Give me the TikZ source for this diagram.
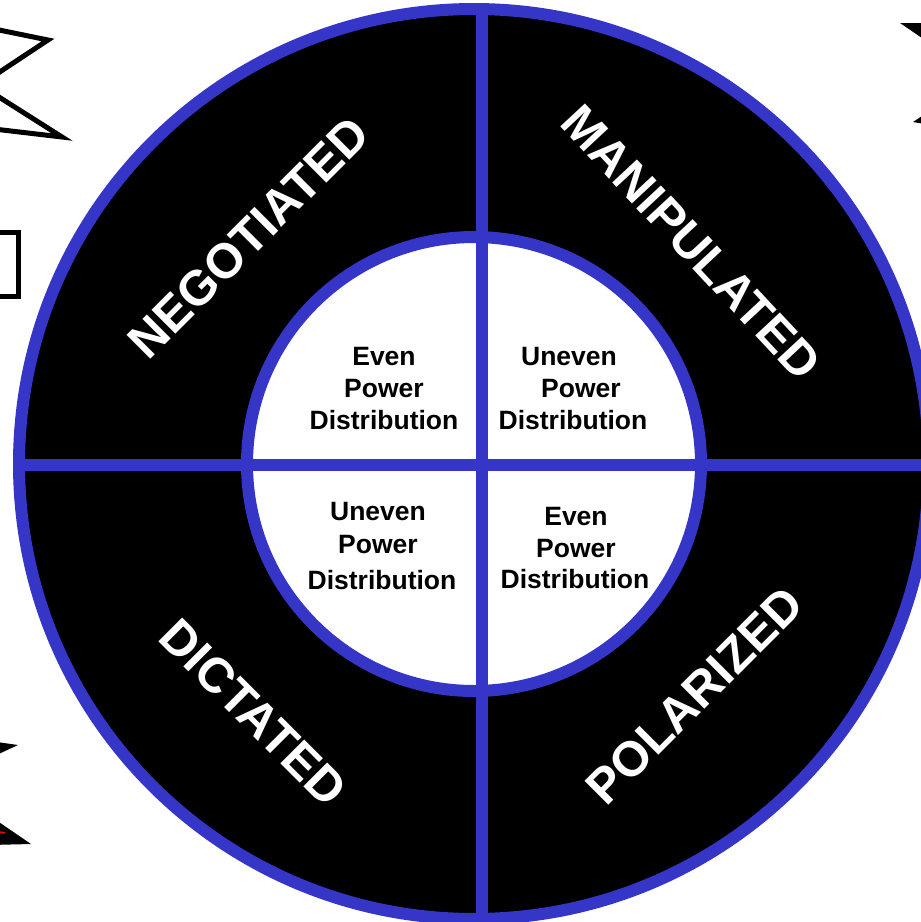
\documentclass[tikz,border=0pt]{standalone}
\usepackage{fontspec}
\setmainfont{Liberation Sans}
\definecolor{ringblue}{RGB}{53,53,200}
\tikzset{
  ring/.style={draw=ringblue, line width=12pt},
  inner/.style={font=\fontsize{26.5}{31}\selectfont\bfseries, text=black, anchor=base, inner sep=0pt},
  outer/.style={font=\fontsize{49}{55}\selectfont\bfseries, text=white, inner sep=0pt, text height=35pt, text depth=0pt, anchor=center},
  frag/.style={line width=5pt, line join=miter}
}
\begin{document}
\begin{tikzpicture}[x=1pt,y=-1pt]
\useasboundingbox (0,0) rectangle (921,922);
\clip (0,0) rectangle (921,922);
\fill[white] (0,0) rectangle (921,922);
% fragments of other shapes at the edges
\draw[frag, fill=white] (-40,22) -- (48,40) -- (-20,85) -- (62,137) -- (-40,125) -- cycle;
\draw[frag, fill=white] (-20,232) rectangle (18,296);
\fill[black] (-10,741) -- (18,745) -- (-10,758) -- cycle;
\fill[black] (-10,816) -- (31,844) -- (-10,845) -- cycle;
\draw[red, line width=1.5pt] (0,832) -- (5,833);
\fill[black] (900,23) -- (925,23) -- (925,40) -- cycle;
\fill[black] (913,122) -- (925,114) -- (925,124) -- cycle;
% wheel
\coordinate (c) at (474,464);
\fill[black] (c) circle[radius=455];
\fill[white] (c) circle[radius=227];
\begin{scope}
  \clip (c) circle[radius=455];
  \draw[ring, line cap=butt] (482,-10) -- (482,940);
  \draw[ring, line cap=butt] (-10,465) -- (940,465);
\end{scope}
\draw[ring] (c) circle[radius=455];
\draw[ring] (c) circle[radius=227];
% inner labels
\node[inner] (tl1) at (384,365) {Even};
\node[inner] (tl2) at (384,397) {Power};
\node[inner] (tl3) at (384,429) {Distribution};
\node[inner] (tr1) at (569,365) {Uneven};
\node[inner] (tr2) at (581,397) {Power};
\node[inner] (tr3) at (573,429) {Distribution};
\node[inner] (bl1) at (378,520) {Uneven};
\node[inner] (bl2) at (378,553) {Power};
\node[inner] (bl3) at (382,589) {Distribution};
\node[inner] (br1) at (576,525) {Even};
\node[inner] (br2) at (576,557) {Power};
\node[inner] (br3) at (575,588) {Distribution};
% outer labels
\node[outer, rotate=45] (neg) at (248,237) {NEGOTIATED};
\node[outer, rotate=-47] (man) at (692,242) {MANIPULATED};
\node[outer, rotate=-45] (dic) at (254,712) {DICTATED};
\node[outer, rotate=45] (pol) at (694,695) {POLARIZED};
\end{tikzpicture}
\end{document}
